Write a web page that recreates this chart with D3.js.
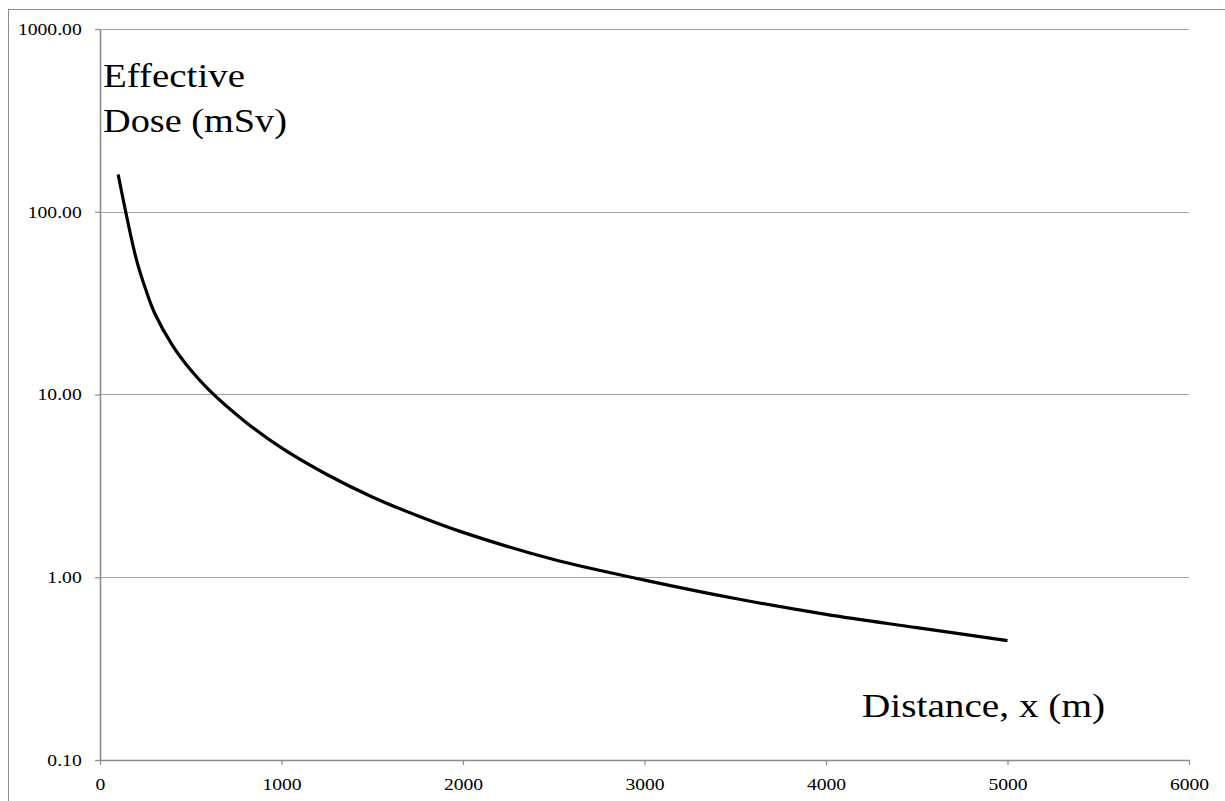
<!DOCTYPE html>
<html>
<head>
<meta charset="utf-8">
<script src="https://cdn.jsdelivr.net/npm/d3@7"></script>
<style>
  html, body { margin: 0; padding: 0; background: #fff; }
  svg { display: block; }
  svg text { font-family: "Liberation Serif", "Times New Roman", Tinos, Times, serif; }
</style>
</head>
<body>
<svg id="chart" width="1225" height="801"></svg>
<script>
// ---- data ----
const distance = [100, 200, 250, 300, 400, 500, 600, 800, 1000, 1250, 1500, 1750, 2000, 2500, 3000, 3500, 4000, 4500, 5000];
const dose     = [160, 55, 38, 28, 18.5, 13.6, 10.6, 7.1, 5.1, 3.65, 2.75, 2.17, 1.76, 1.25, 0.965, 0.765, 0.626, 0.53, 0.45];
const yTicks = [0.1, 1, 10, 100, 1000];
const xTicks = [0, 1000, 2000, 3000, 4000, 5000, 6000];
const yTitle = ["Effective", "Dose (mSv)"];
const xTitle = "Distance, x (m)";

const svg = d3.select("#chart");
const L = 100, R = 1189, T = 29, B = 760;
const sx = 1.19; // horizontal stretch of the reference text

// outer frame
svg.append("rect").attr("x", 8.5).attr("y", 9.5).attr("width", 1240).attr("height", 820)
  .attr("fill", "none").attr("stroke", "#8c8c8c").attr("stroke-width", 1);

const x = d3.scaleLinear().domain([0, 6000]).range([L, R]);
const y = d3.scaleLog().domain([0.1, 1000]).range([B, T]);

// gridlines
svg.append("g").selectAll("line").data(yTicks.filter(v => v > 0.1)).join("line")
  .attr("x1", L).attr("x2", R)
  .attr("y1", d => Math.round(y(d)) + 0.5).attr("y2", d => Math.round(y(d)) + 0.5)
  .attr("stroke", "#a6a6a6").attr("stroke-width", 1.2);

// y axis
const gy = svg.append("g").attr("transform", `translate(${L},0)`)
  .call(d3.axisLeft(y).tickValues(yTicks).tickFormat(d3.format(".2f")).tickSize(5).tickSizeOuter(0));
gy.attr("font-family", null);
gy.select(".domain").attr("stroke", "#8c8c8c").attr("stroke-width", 1.6);
gy.selectAll(".tick line").attr("stroke", "#8c8c8c").attr("stroke-width", 1.2);
gy.selectAll(".tick text")
  .attr("font-size", 16.5).attr("fill", "#000")
  .attr("x", -18.3 / sx).attr("dy", "0.32em")
  .attr("transform", `scale(${sx},1)`);

// x axis
const gx = svg.append("g").attr("transform", `translate(0,${B})`)
  .call(d3.axisBottom(x).tickValues(xTicks).tickFormat(d3.format("d")).tickSize(5).tickSizeOuter(0));
gx.attr("font-family", null);
gx.select(".domain").attr("stroke", "#8c8c8c").attr("stroke-width", 1.6);
gx.selectAll(".tick line").attr("stroke", "#8c8c8c").attr("stroke-width", 1.2);
gx.selectAll(".tick text")
  .attr("font-size", 16.5).attr("fill", "#000")
  .attr("x", 0).attr("y", 30).attr("dy", 0)
  .attr("transform", `scale(${sx},1)`);

// line
const pts = distance.map((d, i) => [d, dose[i]]);
svg.append("path").datum(pts)
  .attr("fill", "none").attr("stroke", "#000").attr("stroke-width", 3.2)
  .attr("stroke-linecap", "butt").attr("stroke-linejoin", "round")
  .attr("d", d3.line().x(d => x(d[0])).y(d => y(d[1])).curve(d3.curveCatmullRom.alpha(0.5)));

// titles
svg.append("text").attr("x", 103).attr("y", 87).attr("font-size", 34)
  .attr("textLength", 142).attr("lengthAdjust", "spacingAndGlyphs").text(yTitle[0]);
svg.append("text").attr("x", 103).attr("y", 132).attr("font-size", 34)
  .attr("textLength", 184).attr("lengthAdjust", "spacingAndGlyphs").text(yTitle[1]);
svg.append("text").attr("x", 862).attr("y", 717).attr("font-size", 34)
  .attr("textLength", 243).attr("lengthAdjust", "spacingAndGlyphs").text(xTitle);
</script>
</body>
</html>
